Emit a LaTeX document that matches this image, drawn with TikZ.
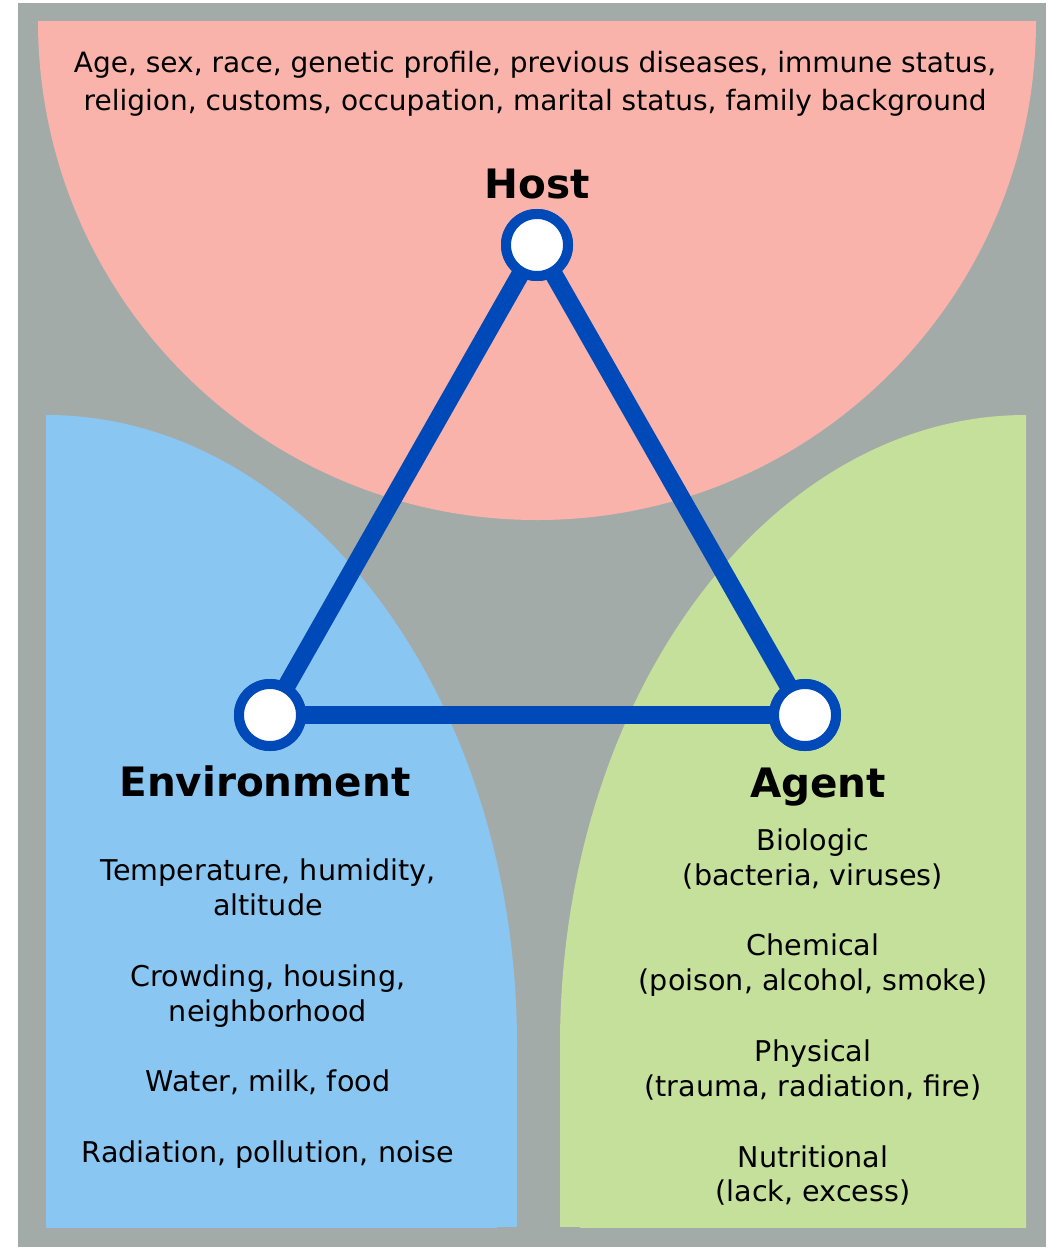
\documentclass[tikz,border=0pt]{standalone}
\usepackage{fontspec}
\setmainfont{DejaVu Sans}
\definecolor{bggray}{HTML}{A3ABA9}
\definecolor{hostpink}{HTML}{F9B3AA}
\definecolor{envblue}{HTML}{8AC6F2}
\definecolor{agentgreen}{HTML}{C5E09A}
\definecolor{triblue}{HTML}{0049B8}
\tikzset{
  body/.style={anchor=base, inner sep=0pt, font=\fontsize{28.6}{32}\selectfont},
  toptext/.style={anchor=base, inner sep=0pt, font=\fontsize{28}{32}\selectfont},
  head/.style={anchor=base, inner sep=0pt, font=\fontsize{40.5}{48}\selectfont\bfseries},
  vertex/.style={circle, fill=white, draw=triblue, line width=10pt, minimum size=62pt, inner sep=0pt},
  edge/.style={draw=triblue, line width=18pt}
}
\begin{document}
\begin{tikzpicture}[x=1pt,y=-1pt]
\useasboundingbox (0,0) rectangle (1051,1247);
\fill[white] (0,0) rectangle (1051,1247);
\fill[bggray] (18,3) rectangle (1046,1247);
% host region
\begin{scope}
\clip (38,22) rectangle (1036,600);
\fill[hostpink] (537,21) circle (499pt);
\end{scope}
% environment region
\begin{scope}
\clip (46,415) rectangle (517,1227);
\fill[envblue] (46,1045) ellipse [x radius=471pt, y radius=630pt];
\fill[envblue] (46,1045) rectangle (517,1227);
\end{scope}
% agent region
\begin{scope}
\clip (560,415) rectangle (1026,1227);
\fill[agentgreen] (1026,1045) ellipse [x radius=466pt, y radius=630pt];
\fill[agentgreen] (560,1045) rectangle (1026,1227);
\end{scope}
% triangle
\node[vertex] (hostv) at (537,245) {};
\node[vertex] (envv) at (270,715) {};
\node[vertex] (agentv) at (805,715) {};
\draw[edge] (hostv.center) -- (envv.center);
\draw[edge] (envv.center) -- (agentv.center);
\draw[edge] (agentv.center) -- (hostv.center);
\node[vertex] at (hostv) {};
\node[vertex] at (envv) {};
\node[vertex] at (agentv) {};
% texts
\node[toptext] (h1) at (535,73) {Age, sex, race, genetic profile, previous diseases, immune status,};
\node[toptext] (h2) at (535,110) {religion, customs, occupation, marital status, family background};
\node[head] (host) at (537,198) {Host};
\node[head] (env) at (265,796) {Environment};
\node[head] (agent) at (818,797) {Agent};
\node[body] (e1) at (268,880) {Temperature, humidity,};
\node[body] (e2) at (268,915) {altitude};
\node[body] (e3) at (268,986) {Crowding, housing,};
\node[body] (e4) at (268,1021) {neighborhood};
\node[body] (e5) at (268,1091) {Water, milk, food};
\node[body] (e6) at (268,1162) {Radiation, pollution, noise};
\node[body] (a1) at (813,850) {Biologic};
\node[body] (a2) at (813,885) {(bacteria, viruses)};
\node[body] (a3) at (813,955) {Chemical};
\node[body] (a4) at (813,990) {(poison, alcohol, smoke)};
\node[body] (a5) at (813,1061) {Physical};
\node[body] (a6) at (813,1096) {(trauma, radiation, fire)};
\node[body] (a7) at (813,1167) {Nutritional};
\node[body] (a8) at (813,1201) {(lack, excess)};
\end{tikzpicture}
\end{document}
